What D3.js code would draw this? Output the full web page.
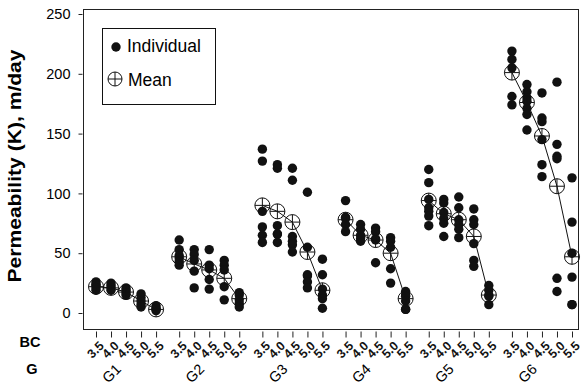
<!DOCTYPE html>
<html>
<head>
<meta charset="utf-8">
<script src="https://cdn.jsdelivr.net/npm/d3@7"></script>
<style>
  body { margin: 0; background: #fff; }
  svg { display: block; font-family: 'Liberation Sans', Arial, sans-serif; }
</style>
</head>
<body>
<script>
// Constants
const WIDTH = 584;
const HEIGHT = 385;
const FRAME = { left: 83, right: 578, top: 9, bottom: 329 };
const GROUP_STEP = 2.77;

// Data
const GROUPS = ['G1', 'G2', 'G3', 'G4', 'G5', 'G6'];
const BC = [3.5, 4.0, 4.5, 5.0, 5.5];
const BC_LABELS = ['3.5', '4.0', '4.5', '5.0', '5.5'];
const Y_TICKS = [0, 50, 100, 150, 200, 250];

// individual permeability values, one list per BC level
const G1_VALUES = [
  [26, 24, 23, 21, 19],
  [25, 23, 21, 19],
  [21, 19, 17, 15],
  [16, 13, 10, 7, 5],
  [6, 4, 3, 2],
];
const G2_VALUES = [
  [61, 53, 48, 46, 43, 40],
  [53, 49, 44, 35, 21],
  [53, 40, 37, 28, 20],
  [44, 40, 36, 22, 11],
  [17, 15, 11, 8, 5],
];
const G3_VALUES = [
  [137, 127, 85, 72, 65, 59],
  [124, 121, 73, 66, 66, 59],
  [121, 111, 64, 60, 57, 51],
  [101, 55, 32, 31, 26, 21],
  [45, 32, 20, 15, 12, 4],
];
const G4_VALUES = [
  [94, 80, 79, 74, 68],
  [74, 70, 65, 62, 60],
  [71, 68, 62, 61, 42],
  [63, 60, 55, 37, 25],
  [18, 15, 14, 10, 3, 3],
];
const G5_VALUES = [
  [120, 109, 95, 88, 85, 81, 73],
  [95, 92, 84, 79, 75, 64],
  [97, 88, 78, 74, 70, 63],
  [87, 78, 74, 58, 44, 39],
  [23, 19, 15, 14, 7],
];
const G6_VALUES = [
  [219, 212, 205, 181, 174],
  [191, 185, 180, 177, 171, 166, 153],
  [184, 163, 160, 145, 124, 114],
  [193, 141, 131, 129, 29, 18],
  [113, 76, 50, 30, 7, 7],
];
const VALUES = [G1_VALUES, G2_VALUES, G3_VALUES, G4_VALUES, G5_VALUES, G6_VALUES];

// group means per BC level
const G1_MEANS = [22, 21, 17.5, 10, 3];
const G2_MEANS = [47, 41, 36, 29, 12];
const G3_MEANS = [90, 85, 76, 51, 19];
const G4_MEANS = [78, 65, 61, 50, 12];
const G5_MEANS = [94, 83, 78, 64, 15];
const G6_MEANS = [201, 176, 148, 106, 47];
const MEANS = [G1_MEANS, G2_MEANS, G3_MEANS, G4_MEANS, G5_MEANS, G6_MEANS];

// Scales
const pos = (g, bc) => g * GROUP_STEP + (bc - BC[0]);
const xScale = d3.scaleLinear([0, pos(5, 5.5)], [96, 572]);
const yScale = d3.scaleLinear([0, 250], [313, 14]);

// Flatten
const individuals = [];
VALUES.forEach((group, g) => {
  group.forEach((vals, b) => {
    vals.forEach((v) => individuals.push({ x: pos(g, BC[b]), v }));
  });
});
const meanSeries = MEANS.map((m, g) => m.map((v, b) => ({ x: pos(g, BC[b]), v })));

const ticks = [];
GROUPS.forEach((name, g) => BC.forEach((bc, b) => ticks.push({ x: pos(g, bc), label: BC_LABELS[b] })));

const svg = d3.select('body')
  .append('svg')
  .attr('width', WIDTH)
  .attr('height', HEIGHT);

// Frame
svg.append('rect')
  .attr('x', FRAME.left + 0.5)
  .attr('y', FRAME.top + 0.5)
  .attr('width', FRAME.right - FRAME.left)
  .attr('height', FRAME.bottom - FRAME.top)
  .attr('fill', 'none')
  .attr('stroke', '#222')
  .attr('stroke-width', 1);

// Y Axis
const yAxis = svg.append('g')
  .attr('transform', `translate(${FRAME.left - 0.5}, 0)`)
  .call(d3.axisLeft(yScale).tickValues(Y_TICKS).tickSize(4).tickPadding(8));
yAxis.select('.domain').remove();
yAxis.selectAll('text')
  .attr('font-family', 'Liberation Sans, Arial, sans-serif')
  .attr('font-size', 14.5)
  .attr('fill', '#000');
yAxis.selectAll('line').attr('stroke', '#222');

// axis title, stretched a little along its length like the original
svg.append('text')
  .attr('transform', 'translate(21, 166) rotate(-90) scale(1.14, 1)')
  .attr('text-anchor', 'middle')
  .attr('font-size', 18.5)
  .attr('font-weight', 'bold')
  .text('Permeability (K), m/day');

// X Axis (BC ticks)
const xAxis = svg.append('g')
  .attr('transform', `translate(0, ${FRAME.bottom + 2.5})`)
  .call(
    d3.axisBottom(xScale)
      .tickValues(ticks.map((t) => t.x))
      .tickFormat((d, i) => ticks[i].label)
      .tickSize(6),
  );
xAxis.select('.domain').remove();
xAxis.selectAll('line').attr('stroke', '#222');
xAxis.selectAll('text')
  .attr('x', 0)
  .attr('y', 0)
  .attr('dy', '0.35em')
  .attr('transform', 'translate(5, 12) rotate(-45)')
  .attr('text-anchor', 'end')
  .attr('font-family', 'Liberation Sans, Arial, sans-serif')
  .attr('font-size', 12.5)
  .attr('font-weight', 'bold')
  .attr('fill', '#111');

// Group labels
svg.selectAll('.glabel')
  .data(GROUPS)
  .enter()
  .append('text')
  .attr('class', 'glabel')
  .attr('transform', (d, g) => `translate(${xScale(pos(g, 4.5)) - 4}, 370) rotate(-45)`)
  .attr('text-anchor', 'end')
  .attr('font-size', 14.5)
  .text((d) => d);

svg.append('text')
  .attr('x', 30).attr('y', 347)
  .attr('text-anchor', 'middle')
  .attr('font-size', 14.5).attr('font-weight', 'bold')
  .text('BC');
svg.append('text')
  .attr('x', 32).attr('y', 374)
  .attr('text-anchor', 'middle')
  .attr('font-size', 14.5).attr('font-weight', 'bold')
  .text('G');

// Individual points
svg.append('g')
  .selectAll('circle')
  .data(individuals)
  .enter()
  .append('circle')
  .attr('cx', (d) => xScale(d.x))
  .attr('cy', (d) => yScale(d.v))
  .attr('r', 4.7)
  .attr('fill', '#111');

// Mean lines
const line = d3.line().x((d) => xScale(d.x)).y((d) => yScale(d.v));
svg.append('g')
  .selectAll('path')
  .data(meanSeries)
  .enter()
  .append('path')
  .attr('d', line)
  .attr('fill', 'none')
  .attr('stroke', '#111')
  .attr('stroke-width', 1);

// Mean symbols
function meanSymbol(sel, r) {
  sel.append('circle').attr('r', r).attr('fill', 'none').attr('stroke', '#111').attr('stroke-width', 1);
  sel.append('line').attr('x1', -r).attr('x2', r).attr('stroke', '#111').attr('stroke-width', 1);
  sel.append('line').attr('y1', -r).attr('y2', r).attr('stroke', '#111').attr('stroke-width', 1);
}
svg.append('g')
  .selectAll('g')
  .data(meanSeries.flat())
  .enter()
  .append('g')
  .attr('transform', (d) => `translate(${xScale(d.x)}, ${yScale(d.v)})`)
  .call(meanSymbol, 7.5);

// Legend
const legend = svg.append('g');
legend.append('rect')
  .attr('x', 102.5).attr('y', 28.5)
  .attr('width', 113).attr('height', 76)
  .attr('fill', '#fff')
  .attr('stroke', '#111');
legend.append('circle').attr('cx', 116).attr('cy', 47).attr('r', 4.7).attr('fill', '#111');
legend.append('g').attr('transform', 'translate(115, 79)').call(meanSymbol, 7);
legend.append('text').attr('x', 127).attr('y', 52).attr('font-size', 17.5).text('Individual');
legend.append('text').attr('x', 128).attr('y', 86).attr('font-size', 17.5).text('Mean');
</script>
</body>
</html>
